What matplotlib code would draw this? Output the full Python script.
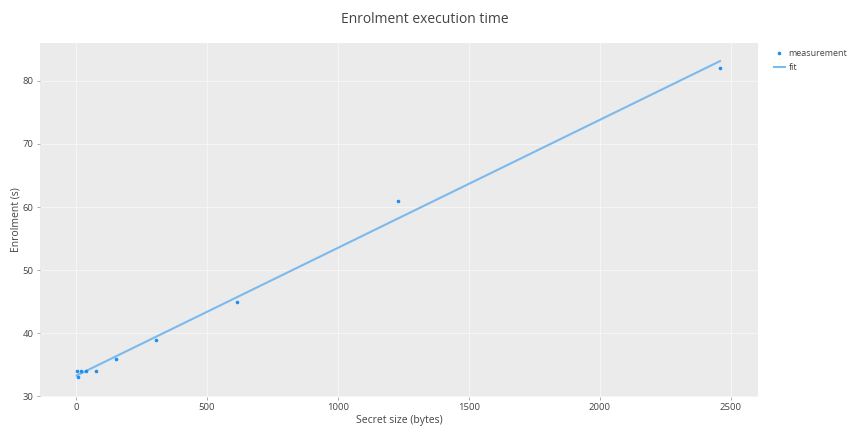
import numpy as np
import matplotlib.pyplot as plt

# secret size (bytes) vs enrolment time (s)
secret_size = [3, 8, 19, 38, 77, 154, 307, 614, 1229, 2458]
enrolment = [34, 33, 34, 34, 34, 36, 39, 45, 61, 82]

x_ticks = [0, 500, 1000, 1500, 2000, 2500]
y_ticks = [30, 40, 50, 60, 70, 80]

plt.rcParams['font.family'] = ['Open Sans', 'DejaVu Sans']

# linear fit over the measured range
slope, intercept = np.polyfit(secret_size, enrolment, 1)
fit_x = np.array([min(secret_size), max(secret_size)])
fit_y = slope * fit_x + intercept

fig = plt.figure(figsize=(8.49, 4.29), dpi=100)
ax = fig.add_axes([0.0471, 0.0746, 0.8457, 0.8252])
ax.set_facecolor('#ebebeb')

ax.plot(secret_size, enrolment, linestyle='none', marker='o', markersize=1.6,
        color='#1f8ff0', label='measurement', zorder=3)
ax.plot(fit_x, fit_y, color='#7cb9ec', linewidth=1.5, label='fit', zorder=2)

ax.set_xlim(-137, 2603)
ax.set_ylim(29.9, 86)
ax.set_xticks(x_ticks)
ax.set_yticks(y_ticks)
ax.grid(True, color='#f7f7f7', linewidth=0.6)
ax.set_axisbelow(True)
for s in ax.spines.values():
    s.set_visible(False)
ax.tick_params(axis='both', colors='#8a8a8a', labelcolor='#444444',
               labelsize=6.8, length=2.5, width=0.5, pad=2)

ax.set_xlabel('Secret size (bytes)', fontsize=7.5, color='#444444', labelpad=2)
ax.set_ylabel('Enrolment (s)', fontsize=7.5, color='#444444', labelpad=1)
fig.suptitle('Enrolment execution time', fontsize=10, color='#444444', y=0.972)

ax.legend(loc='upper left', bbox_to_anchor=(1.022, 0.982), frameon=False,
          fontsize=6.5, labelcolor='#444444', handlelength=1.2, handletextpad=0.45,
          borderaxespad=0, borderpad=0, labelspacing=0.5)

fig.savefig('out.png', dpi=100)
